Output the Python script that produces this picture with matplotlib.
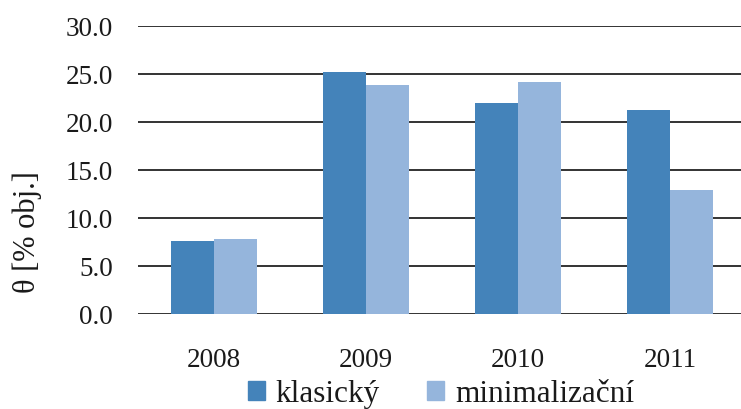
import matplotlib
matplotlib.use("Agg")
import matplotlib.pyplot as plt
from matplotlib.patches import Patch
import numpy as np

years = ["2008", "2009", "2010", "2011"]
klasicky = [7.6, 25.2, 22.0, 21.3]
minimalizacni = [7.8, 23.9, 24.2, 12.9]
series_names = ["klasický", "minimalizační"]
yticks = [0.0, 5.0, 10.0, 15.0, 20.0, 25.0, 30.0]

c1 = "#4483BA"
c2 = "#95B5DC"
tc = "#1a1a1a"

plt.rcParams['font.family'] = ['Liberation Serif', 'DejaVu Serif']
fig = plt.figure(figsize=(7.41, 4.10), dpi=100)
W, H = 741, 410
left, right, top, bottom = 138, 746, 27, 315
ax = fig.add_axes([left / W, 1 - bottom / H, (right - left) / W, (bottom - top) / H])

x = np.arange(len(years))
w = 0.286
ax.bar(x - w / 2, klasicky, w, color=c1, zorder=3, label=series_names[0])
ax.bar(x + w / 2, minimalizacni, w, color=c2, zorder=3, label=series_names[1])

ax.set_xlim(-0.5, len(years) - 0.5)
ax.set_ylim(0, 30)
ax.set_yticks(yticks)
ax.set_yticklabels([f"{v:.1f}" for v in yticks])
ax.set_xticks(x)
ax.set_xticklabels(years)
ax.yaxis.grid(True, color="#111111", linewidth=1.2, zorder=0)
ax.set_axisbelow(True)
for s in ax.spines.values():
    s.set_visible(False)
ax.tick_params(axis='both', length=0, labelsize=19.5, colors=tc)
ax.tick_params(axis='y', pad=18)
ax.tick_params(axis='x', pad=24)

fig.text(27 / W, 1 - 232 / H, "θ [% obj.]", rotation=90, fontsize=22,
         ha='center', va='center', color=tc)

handles = [Patch(color=c1), Patch(color=c2)]
leg = fig.legend(handles, series_names, loc='center', bbox_to_anchor=(441 / W, 1 - 395 / H),
                 ncol=2, frameon=False, fontsize=22.5, handlelength=0.55, handleheight=0.55,
                 handletextpad=0.35, columnspacing=1.5, borderaxespad=0, borderpad=0)
for t in leg.get_texts():
    t.set_color(tc)

fig.savefig("out.png", dpi=100)
